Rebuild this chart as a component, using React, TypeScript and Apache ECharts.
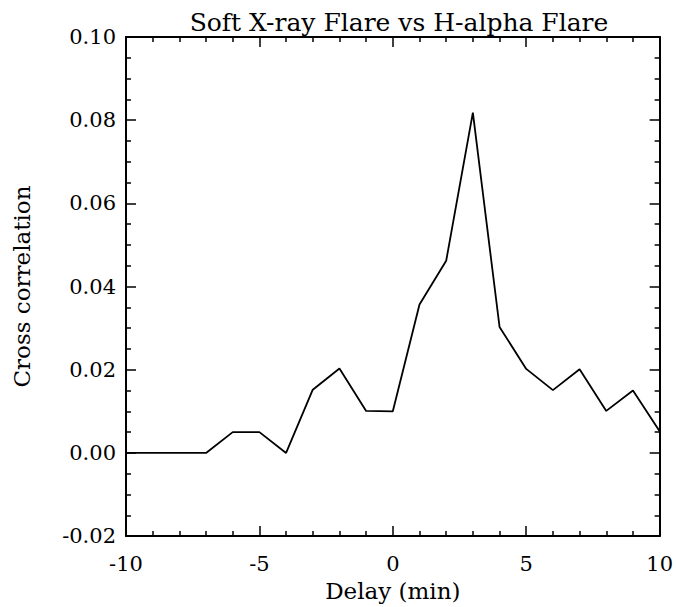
import React, { useEffect, useRef } from "react";
import * as echarts from "echarts";

const titleText = "Soft X-ray Flare vs H-alpha Flare";
const xAxisName = "Delay (min)";
const yAxisName = "Cross correlation";

const delays = [-10, -9, -8, -7, -6, -5, -4, -3, -2, -1, 0, 1, 2, 3, 4, 5, 6, 7, 8, 9, 10];
const crossCorr = [
  0.0, 0.0, 0.0, 0.0, 0.005, 0.005, 0.0, 0.0152, 0.0203, 0.0101, 0.01,
  0.0357, 0.0462, 0.0818, 0.0303, 0.0202, 0.0151, 0.0201, 0.0101, 0.0150, 0.0052,
];

const xMin = -10;
const xMax = 10;
const xStep = 5;
const yMin = -0.02;
const yMax = 0.1;
const yStep = 0.02;

export default function App() {
  const ref = useRef<HTMLDivElement>(null);

  useEffect(() => {
    document.body.style.margin = "0";
    if (!ref.current) return;
    const chart = echarts.init(ref.current, null, { renderer: "svg" });
    const font = "DejaVu Serif";
    const black = "#000";

    const baseX = {
      type: "value" as const,
      min: xMin,
      max: xMax,
      interval: xStep,
      splitLine: { show: false },
      axisLine: { show: true, onZero: false, lineStyle: { color: black, width: 2 } },
      axisTick: { show: true, inside: true, length: 10, lineStyle: { color: black, width: 1.5 } },
      minorTick: { show: true, splitNumber: 5, length: 5, lineStyle: { color: black, width: 1.5 } },
    };
    const baseY = {
      type: "value" as const,
      min: yMin,
      max: yMax,
      interval: yStep,
      splitLine: { show: false },
      axisLine: { show: true, onZero: false, lineStyle: { color: black, width: 2 } },
      axisTick: { show: true, inside: true, length: 10, lineStyle: { color: black, width: 1.5 } },
      minorTick: { show: true, splitNumber: 4, length: 5, lineStyle: { color: black, width: 1.5 } },
    };

    chart.setOption({
      animation: false,
      backgroundColor: "#fff",
      title: {
        text: titleText,
        left: 394,
        textAlign: "center",
        top: 5,
        textStyle: { fontFamily: font, fontSize: 25, fontWeight: "normal", color: black },
      },
      grid: { left: 126, right: 13, top: 37, bottom: 58, containLabel: false },
      xAxis: [
        {
          ...baseX,
          position: "bottom",
          name: xAxisName,
          nameLocation: "middle",
          nameGap: 38,
          nameTextStyle: { fontFamily: font, fontSize: 23, color: black },
          axisLabel: {
            show: true,
            margin: 17,
            fontFamily: font,
            fontSize: 21,
            color: black,
            formatter: (v: number) => String(Math.round(v)),
          },
        },
        {
          ...baseX,
          position: "top",
          axisLabel: { show: false },
        },
      ],
      yAxis: [
        {
          ...baseY,
          position: "left",
          name: yAxisName,
          nameLocation: "middle",
          nameRotate: 90,
          nameGap: 93,
          nameTextStyle: { fontFamily: font, fontSize: 23, color: black },
          axisLabel: {
            show: true,
            margin: 10,
            fontFamily: font,
            fontSize: 21,
            color: black,
            formatter: (v: number) => v.toFixed(2),
          },
        },
        {
          ...baseY,
          position: "right",
          axisLabel: { show: false },
        },
      ],
      series: [
        {
          type: "line",
          xAxisIndex: 0,
          yAxisIndex: 0,
          data: delays.map((d, i) => [d, crossCorr[i]]),
          showSymbol: false,
          symbol: "none",
          lineStyle: { color: black, width: 1.8 },
          clip: true,
        },
      ],
    });

    return () => {
      chart.dispose();
    };
  }, []);

  return <div ref={ref} style={{ width: 676, height: 607 }} />;
}
